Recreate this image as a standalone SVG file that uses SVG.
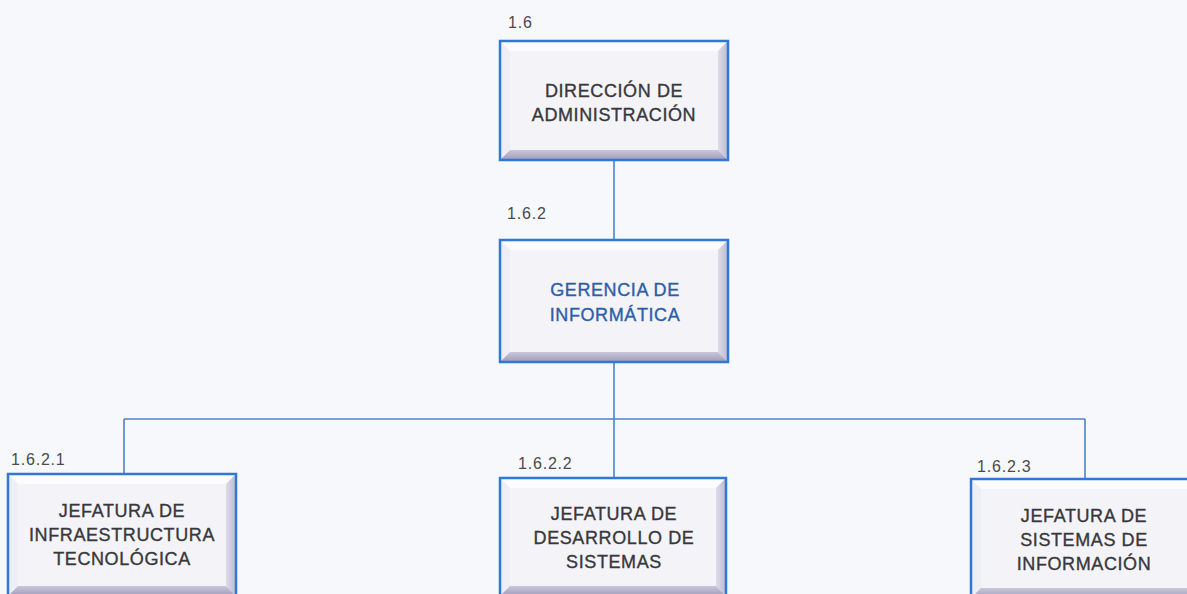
<svg xmlns="http://www.w3.org/2000/svg" width="1187" height="594" viewBox="0 0 1187 594">
<defs>
<linearGradient id="gb" x1="0" y1="0" x2="0" y2="1">
<stop offset="0" stop-color="#cac7db"/>
<stop offset="1" stop-color="#9f9bb8"/>
</linearGradient>
<linearGradient id="gr" x1="0" y1="0" x2="1" y2="0">
<stop offset="0" stop-color="#dedcea"/>
<stop offset="1" stop-color="#bdbad2"/>
</linearGradient>
<style>
.bg{fill:#f6f8fb}
.face{fill:#f3f3f8}
.bt{fill:#fcfcff}
.bl{fill:#eeeef5}
.br{fill:url(#gr)}
.bb{fill:url(#gb)}
.border{fill:none;stroke:#2f78d6;stroke-width:2.5}
.conn{fill:none;stroke:#4f83c4;stroke-width:1.6}
.t{font-family:"Liberation Sans",Arial,sans-serif;font-size:18px;fill:#38383a;stroke:#38383a;stroke-width:0.35;text-anchor:middle;letter-spacing:0.6px}
.tb{fill:#2c5ea8;stroke:#2c5ea8}
.num{font-family:"Liberation Sans",Arial,sans-serif;font-size:16px;fill:#4a4a4a;letter-spacing:0.8px}
</style>
</defs>
<rect class="bg" x="0" y="0" width="1187" height="594"/>
<g id="connectors">
<line class="conn" x1="614" y1="160" x2="614" y2="240"/>
<line class="conn" x1="614" y1="362" x2="614" y2="478"/>
<line class="conn" x1="124" y1="419" x2="1085" y2="419"/>
<line class="conn" x1="124" y1="419" x2="124" y2="474"/>
<line class="conn" x1="1085" y1="419" x2="1085" y2="479"/>
</g>
<g id="n16">
<text class="num" x="508" y="28">1.6</text>
<rect class="face" x="500" y="41" width="228" height="119"/>
<polygon class="bt" points="500,41 728,41 718,51 510,51"/>
<polygon class="bl" points="500,41 510,51 510,150 500,160"/>
<polygon class="br" points="728,41 728,160 718,150 718,51"/>
<polygon class="bb" points="500,160 510,150 718,150 728,160"/>
<rect class="border" x="500" y="41" width="228" height="119"/>
<text class="t" x="614" y="97">DIRECCIÓN DE</text>
<text class="t" x="614" y="121">ADMINISTRACIÓN</text>
</g>
<g id="n162">
<text class="num" x="507" y="219">1.6.2</text>
<rect class="face" x="500" y="240" width="228" height="122"/>
<polygon class="bt" points="500,240 728,240 718,250 510,250"/>
<polygon class="bl" points="500,240 510,250 510,352 500,362"/>
<polygon class="br" points="728,240 728,362 718,352 718,250"/>
<polygon class="bb" points="500,362 510,352 718,352 728,362"/>
<rect class="border" x="500" y="240" width="228" height="122"/>
<text class="t tb" x="615" y="296">GERENCIA DE</text>
<text class="t tb" x="615" y="321">INFORMÁTICA</text>
</g>
<g id="n1621">
<text class="num" x="11" y="465">1.6.2.1</text>
<rect class="face" x="8" y="474" width="228" height="122"/>
<polygon class="bt" points="8,474 236,474 226,484 18,484"/>
<polygon class="bl" points="8,474 18,484 18,586 8,596"/>
<polygon class="br" points="236,474 236,596 226,586 226,484"/>
<polygon class="bb" points="8,596 18,586 226,586 236,596"/>
<rect class="border" x="8" y="474" width="228" height="122"/>
<text class="t" x="122" y="517">JEFATURA DE</text>
<text class="t" x="122" y="541">INFRAESTRUCTURA</text>
<text class="t" x="122" y="565">TECNOLÓGICA</text>
</g>
<g id="n1622">
<text class="num" x="518" y="469">1.6.2.2</text>
<rect class="face" x="500" y="478" width="226" height="118"/>
<polygon class="bt" points="500,478 726,478 716,488 510,488"/>
<polygon class="bl" points="500,478 510,488 510,586 500,596"/>
<polygon class="br" points="726,478 726,596 716,586 716,488"/>
<polygon class="bb" points="500,596 510,586 716,586 726,596"/>
<rect class="border" x="500" y="478" width="226" height="118"/>
<text class="t" x="614" y="520">JEFATURA DE</text>
<text class="t" x="614" y="544">DESARROLLO DE</text>
<text class="t" x="614" y="568">SISTEMAS</text>
</g>
<g id="n1623">
<text class="num" x="977" y="472">1.6.2.3</text>
<rect class="face" x="971" y="479" width="230" height="119"/>
<polygon class="bt" points="971,479 1201,479 1191,489 981,489"/>
<polygon class="bl" points="971,479 981,489 981,588 971,598"/>
<polygon class="br" points="1201,479 1201,598 1191,588 1191,489"/>
<polygon class="bb" points="971,598 981,588 1191,588 1201,598"/>
<rect class="border" x="971" y="479" width="230" height="119"/>
<text class="t" x="1084" y="522">JEFATURA DE</text>
<text class="t" x="1084" y="546">SISTEMAS DE</text>
<text class="t" x="1084" y="570">INFORMACIÓN</text>
</g>
</svg>
